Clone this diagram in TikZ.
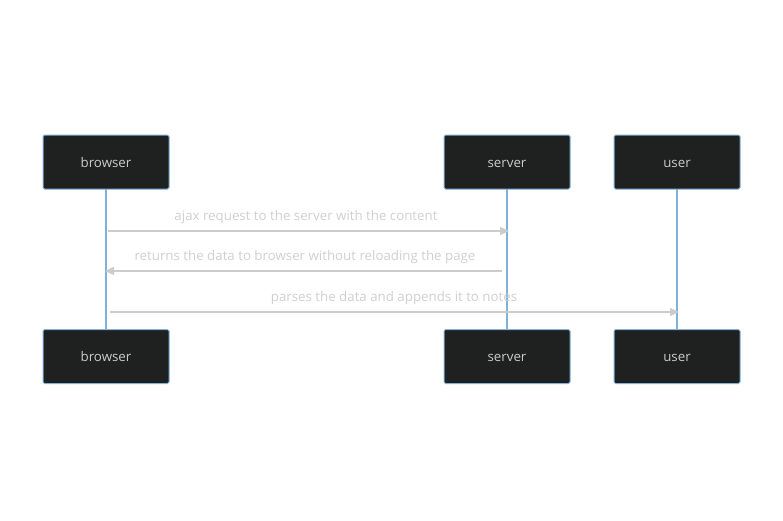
\documentclass[tikz,border=0pt]{standalone}
\usepackage{fontspec}
\setmainfont{Open Sans}
\usetikzlibrary{arrows.meta}
\definecolor{boxfill}{HTML}{1F2020}
\definecolor{boxline}{HTML}{81B1DB}
\definecolor{boxtext}{HTML}{CCCCCC}
\definecolor{msgline}{HTML}{CCCCCC}
\definecolor{msgtext}{HTML}{CFCFCF}
\tikzset{
  actor/.style={draw=boxline, line width=1pt, fill=boxfill, rounded corners=1.5pt,
    minimum width=126pt, minimum height=54pt, inner sep=0pt, text=boxtext,
    text height=12pt, text depth=1.5pt,
    font=\fontsize{13.3}{15}\selectfont},
  life/.style={draw=boxline, line width=1.2pt},
  msg/.style={draw=msgline, line width=1.2pt, -{Triangle[length=9pt,width=8pt]}},
  lbl/.style={text=msgtext, font=\fontsize{13.3}{15}\selectfont, inner sep=0pt,
    text height=12pt, text depth=1.5pt}
}
\begin{document}
\begin{tikzpicture}[x=1pt,y=-1pt]
\useasboundingbox (0,0) rectangle (783,520);
% lifelines
\coordinate (bt) at (106,189); \coordinate (bb) at (106,330);
\coordinate (st) at (507,189); \coordinate (sb) at (507,330);
\coordinate (ut) at (677,189); \coordinate (ub) at (677,330);
\draw[life] (bt) -- (bb);
\draw[life] (st) -- (sb);
\draw[life] (ut) -- (ub);
% actors
\node[actor] (browser1) at (106,162) {browser};
\node[actor] (server1) at (507,162) {server};
\node[actor] (user1) at (677,162) {user};
\node[actor] (browser2) at (106,356.5) {browser};
\node[actor] (server2) at (507,356.5) {server};
\node[actor] (user2) at (677,356.5) {user};
% messages
\coordinate (m1a) at (108,231); \coordinate (m1b) at (509,231);
\coordinate (m2a) at (502,271); \coordinate (m2b) at (105,271);
\coordinate (m3a) at (110,312); \coordinate (m3b) at (679,312);
\draw[msg] (m1a) -- (m1b);
\draw[msg] (m2a) -- (m2b);
\draw[msg] (m3a) -- (m3b);
\node[lbl] (l1) at (306,215) {ajax request to the server with the content};
\node[lbl] (l2) at (305,255) {returns the data to browser without reloading the page};
\node[lbl] (l3) at (394,296) {parses the data and appends it to notes};
\end{tikzpicture}
\end{document}
